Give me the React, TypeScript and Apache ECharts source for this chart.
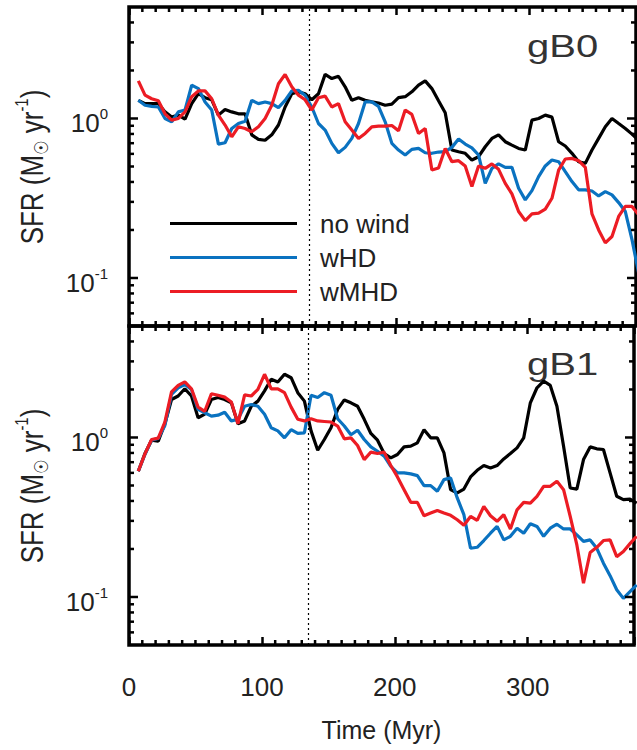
import React, { useEffect, useRef } from "react";
import * as echarts from "echarts";

// ---------- data ----------
const times = [
  7, 12, 17, 22, 27, 32, 37, 42, 47, 52, 57, 62, 67, 72, 77, 82, 87, 92, 97, 102,
  107, 112, 117, 122, 127, 132, 137, 142, 147, 152, 157, 162, 167, 172, 177, 182, 187, 192, 197, 202,
  207, 212, 217, 222, 227, 232, 237, 242, 247, 252, 257, 262, 267, 272, 277, 282, 287, 292, 297, 302,
  307, 312, 317, 322, 327, 332, 337, 342, 347, 352, 357, 362, 367, 372, 377, 382,
];

const gB0NoWind = [
  1.30, 1.24, 1.24, 1.24, 1.10, 1.02, 1.05, 0.99, 1.24, 1.43, 1.35, 1.31, 1.05, 1.14, 1.10, 1.07, 1.07, 0.79, 0.74, 0.73,
  0.79, 0.91, 1.18, 1.43, 1.47, 1.43, 1.31, 1.43, 1.89, 1.78, 1.84, 1.58, 1.30, 1.35, 1.30, 1.27, 1.25, 1.21, 1.23, 1.35,
  1.37, 1.47, 1.62, 1.72, 1.54, 1.29, 1.085, 0.634, 0.619, 0.605, 0.549, 0.576, 0.665, 0.75, 0.79, 0.715, 0.681, 0.649, 0.634, 0.976,
  1.0, 1.05, 1.02, 0.715, 0.672, 0.605, 0.536, 0.523, 0.634, 0.75, 0.887, 1.0, 0.93, 0.866, 0.798, 0.73,
];
const gB0wHD = [
  1.30, 1.21, 1.19, 1.18, 1.00, 0.953, 1.10, 1.13, 1.62, 1.54, 1.27, 1.13, 0.691, 0.705, 0.866, 0.93, 0.962, 1.30, 1.24, 1.27,
  1.24, 1.17, 1.30, 1.49, 1.50, 1.40, 1.18, 0.93, 0.846, 0.698, 0.610, 0.659, 0.75, 0.93, 1.27, 1.27, 1.19, 0.953, 0.698, 0.634,
  0.590, 0.640, 0.649, 0.610, 0.605, 0.616, 0.619, 0.659, 0.743, 0.691, 0.655, 0.590, 0.392, 0.487, 0.519, 0.494, 0.494, 0.365, 0.309, 0.353,
  0.432, 0.504, 0.549, 0.536, 0.464, 0.402, 0.357, 0.357, 0.351, 0.327, 0.348, 0.332, 0.297, 0.261, 0.174, 0.107,
];
const gB0wMHD = [
  1.72, 1.40, 1.33, 1.29, 1.07, 0.976, 1.0, 1.10, 1.37, 1.49, 1.49, 1.33, 1.05, 0.91, 0.768, 0.887, 0.866, 0.825, 0.887, 1.0,
  1.21, 1.65, 1.89, 1.58, 1.40, 1.31, 1.13, 1.35, 1.38, 1.18, 1.24, 0.953, 0.846, 0.75, 0.806, 0.887, 0.896, 0.896, 0.904, 0.837,
  1.13, 1.06, 0.806, 0.866, 0.475, 0.489, 0.649, 0.536, 0.544, 0.504, 0.374, 0.504, 0.487, 0.519, 0.480, 0.392, 0.337, 0.261, 0.229, 0.252,
  0.255, 0.270, 0.316, 0.475, 0.557, 0.562, 0.544, 0.494, 0.252, 0.200, 0.166, 0.182, 0.243, 0.281, 0.281, 0.249,
];

const gB1NoWind = [
  0.614, 0.793, 0.962, 0.948, 1.22, 1.73, 1.82, 2.02, 1.82, 1.33, 1.40, 1.73, 1.78, 1.73, 1.65, 1.22, 1.27, 1.57, 1.69, 1.96,
  2.32, 2.23, 2.49, 2.37, 1.91, 1.69, 1.10, 0.832, 0.971, 1.15, 1.50, 1.72, 1.65, 1.57, 1.30, 1.06, 0.962, 0.793, 0.745, 0.782,
  0.873, 0.882, 0.926, 1.12, 0.995, 0.995, 0.801, 0.471, 0.449, 0.475, 0.566, 0.623, 0.667, 0.644, 0.667, 0.734, 0.793, 0.861, 0.995, 1.65,
  2.05, 2.26, 2.12, 1.57, 0.882, 0.482, 0.475, 0.727, 0.873, 0.849, 0.841, 0.600, 0.428, 0.408, 0.411, 0.388,
];
const gB1wHD = [
  0.614, 0.782, 0.962, 0.986, 1.19, 1.86, 2.05, 2.15, 2.00, 1.50, 1.43, 1.36, 1.38, 1.44, 1.27, 1.30, 1.57, 1.61, 1.57, 1.40,
  1.15, 1.10, 0.995, 1.12, 1.06, 1.07, 1.84, 1.78, 1.91, 1.84, 1.31, 1.18, 1.04, 1.11, 0.971, 0.873, 0.820, 0.763, 0.660, 0.600,
  0.600, 0.591, 0.577, 0.499, 0.499, 0.460, 0.544, 0.558, 0.418, 0.328, 0.202, 0.205, 0.226, 0.251, 0.277, 0.228, 0.240, 0.270, 0.251, 0.288,
  0.277, 0.240, 0.270, 0.286, 0.267, 0.267, 0.245, 0.223, 0.228, 0.202, 0.163, 0.136, 0.111, 0.098, 0.108, 0.119,
];
const gB1wMHD = [
  0.614, 0.789, 0.971, 0.990, 1.25, 1.93, 2.12, 2.23, 2.02, 1.55, 1.46, 1.88, 1.84, 1.79, 1.67, 1.22, 1.85, 1.82, 2.00, 2.49,
  2.02, 2.02, 1.91, 1.55, 1.30, 1.27, 1.31, 1.27, 1.26, 1.25, 1.18, 0.981, 0.995, 0.891, 0.727, 0.809, 0.793, 0.809, 0.667, 0.566,
  0.471, 0.392, 0.392, 0.323, 0.336, 0.349, 0.336, 0.325, 0.305, 0.282, 0.320, 0.302, 0.370, 0.323, 0.298, 0.328, 0.267, 0.352, 0.392, 0.388,
  0.428, 0.494, 0.494, 0.531, 0.471, 0.320, 0.212, 0.122, 0.190, 0.205, 0.226, 0.228, 0.179, 0.193, 0.216, 0.240,
];

const seriesNames = ["no wind", "wHD", "wMHD"];
const seriesColors = ["#000000", "#0a72c0", "#ec1c24"];
const panelLabels = ["gB0", "gB1"];
const xTickLabels = ["0", "100", "200", "300"];
const yMajorTicks = [0.1, 1];
const yMinorTicks = [0.06, 0.07, 0.08, 0.09, 0.2, 0.3, 0.4, 0.5, 0.6, 0.7, 0.8, 0.9, 2, 3, 4];
const xMinorTicks = [
  10, 20, 30, 40, 50, 60, 70, 80, 90, 110, 120, 130, 140, 150, 160, 170, 180, 190,
  210, 220, 230, 240, 250, 260, 270, 280, 290, 310, 320, 330, 340, 350, 360, 370,
];
const windStartTime = 135;
const X_MIN = 0;
const X_MAX = 380;
const Y_MIN = 0.05;
const Y_MAX = 5;

const FONT = "'Liberation Sans', Arial, Helvetica, sans-serif";
const TEXT = "#222";

const panels = [
  [gB0NoWind, gB0wHD, gB0wMHD],
  [gB1NoWind, gB1wHD, gB1wMHD],
];

function tickRender(_params: any, api: any) {
  const kind = api.value(2);
  const len = api.value(3);
  const style = { stroke: "#000", lineWidth: 2.5 };
  if (kind === 0) {
    const v = api.value(1);
    const a = api.coord([X_MIN, v]);
    const b = api.coord([X_MAX, v]);
    return {
      type: "group",
      children: [
        { type: "line", shape: { x1: a[0], y1: a[1], x2: a[0] + len, y2: a[1] }, style },
        { type: "line", shape: { x1: b[0], y1: b[1], x2: b[0] - len, y2: b[1] }, style },
      ],
    };
  }
  const t = api.value(0);
  const a = api.coord([t, Y_MIN]);
  const b = api.coord([t, Y_MAX]);
  return {
    type: "group",
    children: [
      { type: "line", shape: { x1: a[0], y1: a[1], x2: a[0], y2: a[1] - len }, style },
      { type: "line", shape: { x1: b[0], y1: b[1], x2: b[0], y2: b[1] + len }, style },
    ],
  };
}

export default function App() {
  const ref = useRef<HTMLDivElement>(null);

  useEffect(() => {
    if (!ref.current) return;
    const chart = echarts.init(ref.current, undefined, { renderer: "svg" });

    const grids = [
      { left: 129, top: 7, width: 507, height: 319 },
      { left: 129, top: 326, width: 507, height: 319 },
    ].map((g) => ({
      ...g,
      show: true,
      borderColor: "#000",
      borderWidth: 3.5,
      backgroundColor: "transparent",
    }));

    const xAxes: any[] = [];
    const yAxes: any[] = [];
    [0, 1].forEach((gi) => {
      ["bottom", "top"].forEach((pos) => {
        const showLabel = gi === 1 && pos === "bottom";
        xAxes.push({
          type: "value",
          gridIndex: gi,
          position: pos,
          min: X_MIN,
          max: X_MAX,
          interval: 100,
          axisLine: { show: false },
          splitLine: { show: false },
          axisTick: { show: true, inside: true, length: 8, lineStyle: { color: "#000", width: 2.5 } },
          axisLabel: {
            show: showLabel,
            margin: 29,
            fontSize: 26,
            fontFamily: FONT,
            color: TEXT,
            formatter: (v: number) => {
              const s = String(Math.round(v));
              return xTickLabels.indexOf(s) >= 0 ? s : "";
            },
          },
          name: showLabel ? "Time (Myr)" : "",
          nameLocation: "middle",
          nameGap: 72,
          nameTextStyle: { fontSize: 25, fontFamily: FONT, color: TEXT },
        });
      });
      yAxes.push({
        type: "log",
        logBase: 10,
        gridIndex: gi,
        min: Y_MIN,
        max: Y_MAX,
        axisLine: { show: false },
        axisTick: { show: false },
        splitLine: { show: false },
        axisLabel: {
          margin: 21,
          padding: [10, 0, 0, 0],
          formatter: (v: number) => {
            const e = Math.round(Math.log10(v));
            if (Math.abs(Math.log10(v) - e) > 1e-6) return "";
            return "{a|10}{s|" + String(e) + "}";
          },
          rich: {
            a: { fontSize: 26, lineHeight: 34, fontFamily: FONT, color: TEXT },
            s: { fontSize: 15, lineHeight: 15, fontFamily: FONT, color: TEXT, verticalAlign: "top" },
          },
        },
      });
    });

    const series: any[] = [];
    panels.forEach((sets, gi) => {
      sets.forEach((vals, si) => {
        series.push({
          name: seriesNames[si],
          type: "line",
          xAxisIndex: gi * 2,
          yAxisIndex: gi,
          data: times.map((t, i) => [t, vals[i]]),
          symbol: "none",
          showSymbol: false,
          lineStyle: { color: seriesColors[si], width: 3.2 },
          itemStyle: { color: seriesColors[si] },
          z: 3 + si,
          markLine:
            si === 0
              ? {
                  silent: true,
                  symbol: ["none", "none"],
                  label: { show: false },
                  lineStyle: { color: "#000", type: [2, 3], width: 1.2 },
                  data: [{ xAxis: windStartTime }],
                }
              : undefined,
        });
      });
      const tickData: number[][] = [];
      yMajorTicks.forEach((v) => tickData.push([X_MIN, v, 0, 9]));
      yMinorTicks.forEach((v) => tickData.push([X_MIN, v, 0, 5]));
      xMinorTicks.forEach((t) => tickData.push([t, 1, 1, 5]));
      series.push({
        name: "ticks" + gi,
        type: "custom",
        xAxisIndex: gi * 2,
        yAxisIndex: gi,
        silent: true,
        renderItem: tickRender,
        encode: { x: 0, y: 1 },
        data: tickData,
        z: 10,
      });
    });

    const yTitle = (cy: number) => ({
      type: "text",
      x: 32,
      y: cy,
      rotation: Math.PI / 2,
      scaleY: 1.2,
      style: {
        text: "{a|SFR (M}{b|☉}{a| yr}{c|-1}{a|)}",
        align: "center",
        verticalAlign: "middle",
        rich: {
          a: { fontSize: 26, lineHeight: 32, fontFamily: FONT, fill: TEXT, color: TEXT },
          b: { fontSize: 16, lineHeight: 16, fontFamily: "'DejaVu Sans', sans-serif", fill: TEXT, color: TEXT, verticalAlign: "bottom" },
          c: { fontSize: 15, lineHeight: 15, fontFamily: FONT, fill: TEXT, color: TEXT, verticalAlign: "top" },
        },
      },
    });

    const panelText = (txt: string, cy: number) => ({
      type: "text",
      x: 527,
      y: cy,
      scaleX: 1.25,
      style: {
        text: txt,
        fontSize: 32,
        fontFamily: FONT,
        fill: "#333",
        align: "left",
        verticalAlign: "middle",
      },
    });

    chart.setOption({
      animation: false,
      backgroundColor: "#fff",
      grid: grids,
      xAxis: xAxes,
      yAxis: yAxes,
      legend: {
        data: seriesNames.map((n) => ({ name: n, icon: "rect" })),
        orient: "vertical",
        left: 170,
        top: 210,
        padding: 0,
        itemWidth: 127,
        itemHeight: 3,
        itemGap: 7,
        selectedMode: false,
        textStyle: { fontSize: 26, lineHeight: 27, fontFamily: FONT, color: TEXT, padding: [0, 0, 0, 18] },
      },
      graphic: [
        yTitle(167),
        yTitle(486),
        panelText(panelLabels[0], 46),
        panelText(panelLabels[1], 364),
      ],
      series,
    });

    return () => chart.dispose();
  }, []);

  return (
    <div
      ref={ref}
      style={{ position: "absolute", left: 0, top: 0, width: 637, height: 750, background: "#fff" }}
    />
  );
}
